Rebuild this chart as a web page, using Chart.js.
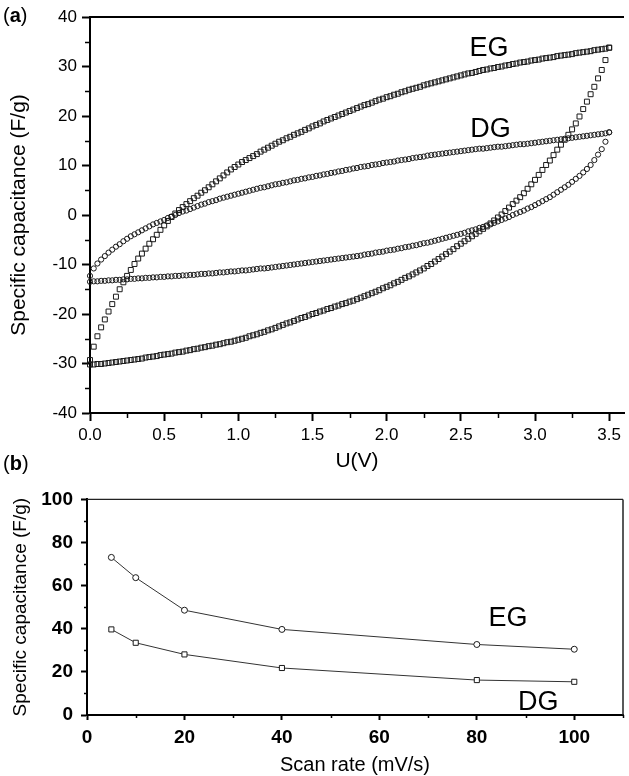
<!DOCTYPE html>
<html>
<head>
<meta charset="utf-8">
<title>Specific capacitance</title>
<script src="https://cdn.jsdelivr.net/npm/chart.js@4.4.0/dist/chart.umd.min.js"></script>
<style>
  html, body { margin: 0; padding: 0; background: #fff; }
  body { width: 629px; height: 776px; position: relative; overflow: hidden; font-family: "Liberation Sans", Arial, sans-serif; }
  canvas { position: absolute; left: 0; }
  #cvChart { top: 0; }
  #rateChart { top: 480px; }
  .panel { position: absolute; left: 3px; font-size: 20px; color: #000; }
</style>
</head>
<body>
<canvas id="cvChart" width="629" height="480"></canvas>
<canvas id="rateChart" width="629" height="296"></canvas>
<div class="panel" style="top:4px">(<b>a</b>)</div>
<div class="panel" style="top:452px">(<b>b</b>)</div>
<script>
// (a) cyclic voltammograms, potential sweep 0 - 3.5 V
const potential = [
  0.000, 0.025, 0.050, 0.075, 0.100, 0.125, 0.150, 0.175, 0.200, 0.225,
  0.250, 0.275, 0.300, 0.325, 0.350, 0.375, 0.400, 0.425, 0.450, 0.475,
  0.500, 0.525, 0.550, 0.575, 0.600, 0.625, 0.650, 0.675, 0.700, 0.725,
  0.750, 0.775, 0.800, 0.825, 0.850, 0.875, 0.900, 0.925, 0.950, 0.975,
  1.000, 1.025, 1.050, 1.075, 1.100, 1.125, 1.150, 1.175, 1.200, 1.225,
  1.250, 1.275, 1.300, 1.325, 1.350, 1.375, 1.400, 1.425, 1.450, 1.475,
  1.500, 1.525, 1.550, 1.575, 1.600, 1.625, 1.650, 1.675, 1.700, 1.725,
  1.750, 1.775, 1.800, 1.825, 1.850, 1.875, 1.900, 1.925, 1.950, 1.975,
  2.000, 2.025, 2.050, 2.075, 2.100, 2.125, 2.150, 2.175, 2.200, 2.225,
  2.250, 2.275, 2.300, 2.325, 2.350, 2.375, 2.400, 2.425, 2.450, 2.475,
  2.500, 2.525, 2.550, 2.575, 2.600, 2.625, 2.650, 2.675, 2.700, 2.725,
  2.750, 2.775, 2.800, 2.825, 2.850, 2.875, 2.900, 2.925, 2.950, 2.975,
  3.000, 3.025, 3.050, 3.075, 3.100, 3.125, 3.150, 3.175, 3.200, 3.225,
  3.250, 3.275, 3.300, 3.325, 3.350, 3.375, 3.400, 3.425, 3.450, 3.475,
  3.500
];

// EG, forward (upper) and reverse (lower) branches
const egAnodic = [
  -29.3, -26.6, -24.5, -22.7, -21.1, -19.5, -18.0, -16.5, -15.0, -13.6,
  -12.3, -11.1, -9.9, -8.8, -7.8, -6.8, -5.8, -4.9, -4.0, -3.0,
  -2.1, -1.2, -0.4, 0.3, 1.0, 1.6, 2.2, 2.8, 3.4, 3.9,
  4.5, 5.0, 5.6, 6.2, 6.8, 7.4, 8.0, 8.6, 9.2, 9.7,
  10.2, 10.7, 11.1, 11.5, 11.9, 12.3, 12.8, 13.2, 13.6, 14.0,
  14.4, 14.8, 15.1, 15.5, 15.8, 16.2, 16.5, 16.8, 17.2, 17.5,
  17.9, 18.2, 18.5, 18.9, 19.2, 19.5, 19.8, 20.1, 20.4, 20.7,
  21.0, 21.3, 21.6, 21.9, 22.2, 22.4, 22.7, 23.0, 23.3, 23.5,
  23.8, 24.0, 24.3, 24.5, 24.8, 25.0, 25.3, 25.5, 25.7, 25.9,
  26.2, 26.4, 26.6, 26.8, 27.0, 27.2, 27.4, 27.6, 27.8, 28.0,
  28.2, 28.4, 28.6, 28.7, 28.9, 29.1, 29.3, 29.4, 29.6, 29.7,
  29.9, 30.0, 30.2, 30.3, 30.5, 30.6, 30.8, 30.9, 31.0, 31.2,
  31.3, 31.4, 31.6, 31.7, 31.8, 31.9, 32.1, 32.2, 32.3, 32.4,
  32.5, 32.7, 32.8, 32.9, 33.0, 33.1, 33.3, 33.4, 33.5, 33.6,
  33.8
];
const egCathodic = [
  -30.2, -30.2, -30.1, -30.1, -30.0, -29.9, -29.8, -29.7, -29.6, -29.5,
  -29.4, -29.3, -29.2, -29.1, -29.0, -28.8, -28.7, -28.6, -28.5, -28.3,
  -28.2, -28.1, -28.0, -27.8, -27.7, -27.6, -27.4, -27.3, -27.1, -27.0,
  -26.8, -26.7, -26.5, -26.4, -26.2, -26.1, -25.9, -25.7, -25.6, -25.4,
  -25.2, -25.0, -24.8, -24.5, -24.3, -24.1, -23.8, -23.6, -23.3, -23.1,
  -22.8, -22.5, -22.2, -21.9, -21.7, -21.4, -21.1, -20.8, -20.6, -20.3,
  -20.0, -19.8, -19.5, -19.3, -19.0, -18.8, -18.5, -18.3, -18.0, -17.8,
  -17.5, -17.3, -17.0, -16.7, -16.4, -16.1, -15.8, -15.5, -15.2, -14.8,
  -14.5, -14.2, -13.8, -13.5, -13.1, -12.7, -12.4, -12.0, -11.6, -11.2,
  -10.8, -10.3, -9.9, -9.4, -8.9, -8.4, -7.9, -7.4, -6.9, -6.3,
  -5.8, -5.3, -4.8, -4.3, -3.8, -3.3, -2.8, -2.3, -1.7, -1.1,
  -0.5, 0.1, 0.8, 1.5, 2.2, 2.9, 3.6, 4.4, 5.3, 6.2,
  7.1, 8.1, 9.1, 10.1, 11.0, 12.1, 13.2, 14.2, 15.2, 16.2,
  17.3, 18.5, 19.9, 21.4, 22.9, 24.4, 25.9, 27.6, 29.3, 31.3,
  33.8
];

// DG, forward (upper) and reverse (lower) branches
const dgAnodic = [
  -12.3, -10.8, -9.8, -9.0, -8.3, -7.6, -7.0, -6.4, -5.9, -5.3,
  -4.8, -4.3, -3.9, -3.5, -3.1, -2.7, -2.3, -1.9, -1.6, -1.3,
  -1.0, -0.6, -0.3, 0.0, 0.4, 0.7, 0.9, 1.2, 1.5, 1.8,
  2.1, 2.3, 2.6, 2.8, 3.0, 3.3, 3.5, 3.7, 3.9, 4.1,
  4.3, 4.5, 4.7, 4.9, 5.1, 5.3, 5.5, 5.6, 5.8, 6.0,
  6.2, 6.3, 6.5, 6.6, 6.8, 7.0, 7.1, 7.3, 7.4, 7.6,
  7.7, 7.9, 8.0, 8.2, 8.3, 8.5, 8.6, 8.8, 8.9, 9.1,
  9.2, 9.4, 9.5, 9.7, 9.8, 9.9, 10.1, 10.2, 10.3, 10.5,
  10.6, 10.7, 10.8, 11.0, 11.1, 11.2, 11.3, 11.5, 11.6, 11.7,
  11.8, 12.0, 12.1, 12.2, 12.3, 12.4, 12.5, 12.6, 12.7, 12.8,
  12.9, 13.0, 13.1, 13.2, 13.3, 13.4, 13.4, 13.5, 13.6, 13.7,
  13.8, 13.8, 13.9, 14.0, 14.1, 14.2, 14.3, 14.3, 14.4, 14.5,
  14.6, 14.7, 14.8, 14.9, 15.0, 15.1, 15.2, 15.3, 15.4, 15.5,
  15.6, 15.7, 15.8, 15.9, 16.0, 16.1, 16.2, 16.3, 16.4, 16.5,
  16.7
];
const dgCathodic = [
  -13.5, -13.4, -13.4, -13.3, -13.3, -13.2, -13.2, -13.1, -13.1, -13.0,
  -13.0, -12.9, -12.9, -12.8, -12.8, -12.7, -12.7, -12.6, -12.6, -12.5,
  -12.5, -12.4, -12.4, -12.3, -12.3, -12.2, -12.2, -12.1, -12.1, -12.0,
  -11.9, -11.9, -11.8, -11.8, -11.7, -11.6, -11.6, -11.5, -11.4, -11.4,
  -11.3, -11.2, -11.2, -11.1, -11.0, -10.9, -10.8, -10.8, -10.7, -10.6,
  -10.5, -10.4, -10.3, -10.2, -10.1, -10.0, -9.9, -9.8, -9.7, -9.6,
  -9.5, -9.4, -9.3, -9.2, -9.1, -9.0, -8.9, -8.8, -8.7, -8.6,
  -8.5, -8.4, -8.3, -8.2, -8.0, -7.9, -7.8, -7.6, -7.5, -7.4,
  -7.2, -7.1, -7.0, -6.8, -6.7, -6.5, -6.4, -6.2, -6.1, -5.9,
  -5.7, -5.6, -5.4, -5.2, -5.0, -4.8, -4.6, -4.4, -4.2, -4.0,
  -3.8, -3.6, -3.3, -3.1, -2.9, -2.6, -2.4, -2.1, -1.9, -1.6,
  -1.3, -1.0, -0.7, -0.4, 0.0, 0.3, 0.6, 0.9, 1.3, 1.6,
  2.0, 2.4, 2.8, 3.2, 3.6, 4.1, 4.6, 5.1, 5.6, 6.1,
  6.7, 7.3, 7.9, 8.6, 9.3, 10.1, 11.1, 12.2, 13.3, 14.8,
  16.7
];

// (b) capacitance against scan rate
const scanRates = [5, 10, 20, 40, 80, 100];
const egCapacitance = [73.1, 63.7, 48.6, 39.7, 32.7, 30.5];
const dgCapacitance = [39.7, 33.5, 28.1, 21.8, 16.2, 15.4];

Chart.defaults.font.family = '"Liberation Sans", Arial, Helvetica, sans-serif';
Chart.defaults.color = '#000';

// both branches of a loop as one point list
function loop(up, down) {
  const pts = potential.map((u, i) => ({ x: u, y: up[i] }));
  for (let i = potential.length - 1; i >= 0; i--) pts.push({ x: potential[i], y: down[i] });
  return pts;
}

function pairs(xs, ys) {
  return xs.map((x, i) => ({ x: x, y: ys[i] }));
}

// minor ticks, closing border lines and in-plot text
const frame = {
  id: 'frame',
  afterDraw(chart, args, opts) {
    const { ctx, chartArea: a, scales } = chart;
    ctx.save();
    ctx.strokeStyle = '#000';
    ctx.lineWidth = opts.minorWidth;
    ctx.beginPath();
    ['x', 'y'].forEach(key => {
      const s = scales[key];
      const step = opts.minor[key], major = opts.major[key];
      for (let k = Math.ceil(s.min / step - 1e-9); k * step <= s.max + 1e-9; k++) {
        const v = k * step;
        if (Math.abs(v / major - Math.round(v / major)) < 1e-6) continue;
        const p = Math.round(s.getPixelForValue(v)) + 0.5;
        if (key === 'x') { ctx.moveTo(p, a.bottom); ctx.lineTo(p, a.bottom + opts.minorLength); }
        else { ctx.moveTo(a.left - opts.minorLength, p); ctx.lineTo(a.left, p); }
      }
    });
    ctx.stroke();

    ctx.strokeStyle = opts.edgeColor;
    ctx.lineWidth = opts.topWidth;
    ctx.beginPath();
    ctx.moveTo(a.left, a.top);
    ctx.lineTo(a.right, a.top);
    ctx.stroke();
    if (opts.rightWidth) {
      ctx.lineWidth = opts.rightWidth;
      ctx.beginPath();
      ctx.moveTo(a.right, a.top);
      ctx.lineTo(a.right, a.bottom);
      ctx.stroke();
    }

    ctx.fillStyle = '#000';
    ctx.font = opts.labelFont;
    ctx.textAlign = 'center';
    ctx.textBaseline = 'middle';
    opts.labels.forEach(l => {
      ctx.fillText(l.text, scales.x.getPixelForValue(l.x), scales.y.getPixelForValue(l.y));
    });
    ctx.restore();
  }
};

const axisLine = { display: true, color: '#000', width: 2 };
const tickGrid = (len) => ({ display: true, drawOnChartArea: false, drawTicks: true, tickLength: len, tickWidth: 2, tickColor: '#000', color: '#000' });

new Chart(document.getElementById('cvChart'), {
  type: 'scatter',
  data: {
    datasets: [
      {
        label: 'EG',
        data: loop(egAnodic, egCathodic),
        pointStyle: 'rect',
        pointRadius: 3.5,
        pointBorderWidth: 1,
        pointBorderColor: '#1a1a1a',
        pointBackgroundColor: 'rgba(255,255,255,0)',
        clip: false
      },
      {
        label: 'DG',
        data: loop(dgAnodic, dgCathodic),
        pointStyle: 'circle',
        pointRadius: 2.6,
        pointBorderWidth: 1,
        pointBorderColor: '#1a1a1a',
        pointBackgroundColor: 'rgba(255,255,255,0)',
        clip: false
      }
    ]
  },
  options: {
    responsive: false,
    animation: false,
    devicePixelRatio: 1,
    events: [],
    layout: { padding: { top: 17, right: 0, bottom: 0, left: 0 } },
    plugins: {
      legend: { display: false },
      tooltip: { enabled: false },
      frame: {
        minor: { x: 0.25, y: 5 },
        major: { x: 0.5, y: 10 },
        minorLength: 5,
        minorWidth: 1.5,
        topWidth: 2,
        rightWidth: 0,
        edgeColor: '#000',
        labelFont: '27px "Liberation Sans", Arial, sans-serif',
        labels: [
          { text: 'EG', x: 2.69, y: 33.7 },
          { text: 'DG', x: 2.70, y: 17.2 }
        ]
      }
    },
    scales: {
      x: {
        type: 'linear',
        min: 0,
        max: 3.6,
        border: axisLine,
        grid: tickGrid(8),
        ticks: { stepSize: 0.5, includeBounds: false, padding: 4, font: { size: 17 }, callback: v => v.toFixed(1) },
        title: { display: true, text: 'U(V)', font: { size: 21 }, padding: { top: 0, bottom: 6 } },
        afterFit: s => { s.height = 67; }
      },
      y: {
        type: 'linear',
        min: -40,
        max: 40,
        border: axisLine,
        grid: tickGrid(8),
        ticks: { stepSize: 10, includeBounds: false, padding: 5, font: { size: 17 }, callback: v => String(v) },
        title: { display: true, text: 'Specific capacitance (F/g)', font: { size: 21 }, padding: { top: 7, bottom: 0 } },
        afterFit: s => { s.width = 90; }
      }
    }
  },
  plugins: [frame]
});

new Chart(document.getElementById('rateChart'), {
  type: 'scatter',
  data: {
    datasets: [
      {
        label: 'EG',
        data: pairs(scanRates, egCapacitance),
        showLine: true,
        borderColor: '#333',
        borderWidth: 1,
        pointStyle: 'circle',
        pointRadius: 3,
        pointBorderWidth: 1,
        pointBorderColor: '#1a1a1a',
        pointBackgroundColor: '#fff',
        clip: false
      },
      {
        label: 'DG',
        data: pairs(scanRates, dgCapacitance),
        showLine: true,
        borderColor: '#333',
        borderWidth: 1,
        pointStyle: 'rect',
        pointRadius: 3.6,
        pointBorderWidth: 1,
        pointBorderColor: '#1a1a1a',
        pointBackgroundColor: '#fff',
        clip: false
      }
    ]
  },
  options: {
    responsive: false,
    animation: false,
    devicePixelRatio: 1,
    events: [],
    layout: { padding: { top: 19, right: 6, bottom: 0, left: 0 } },
    plugins: {
      legend: { display: false },
      tooltip: { enabled: false },
      frame: {
        minor: { x: 10, y: 10 },
        major: { x: 20, y: 20 },
        minorLength: 3,
        minorWidth: 1.5,
        topWidth: 1.2,
        rightWidth: 1.5,
        edgeColor: '#222',
        labelFont: '27px "Liberation Sans", Arial, sans-serif',
        labels: [
          { text: 'EG', x: 86.4, y: 44.9 },
          { text: 'DG', x: 92.6, y: 5.6 }
        ]
      }
    },
    scales: {
      x: {
        type: 'linear',
        min: 0,
        max: 110,
        border: axisLine,
        grid: tickGrid(5),
        ticks: { stepSize: 20, includeBounds: false, padding: 6, font: { size: 19, weight: 'bold' }, callback: v => String(v) },
        title: { display: true, text: 'Scan rate (mV/s)', font: { size: 20, lineHeight: 1.1 }, padding: { top: 0, bottom: 0 } },
        afterFit: s => { s.height = 61; }
      },
      y: {
        type: 'linear',
        min: 0,
        max: 100,
        border: axisLine,
        grid: tickGrid(6),
        ticks: { stepSize: 20, includeBounds: false, padding: 8, font: { size: 19, weight: 'bold' }, callback: v => String(v) },
        title: { display: true, text: 'Specific capacitance (F/g)', font: { size: 19 }, padding: { top: 9, bottom: 0 } },
        afterFit: s => { s.width = 87; }
      }
    }
  },
  plugins: [frame]
});
</script>
</body>
</html>
